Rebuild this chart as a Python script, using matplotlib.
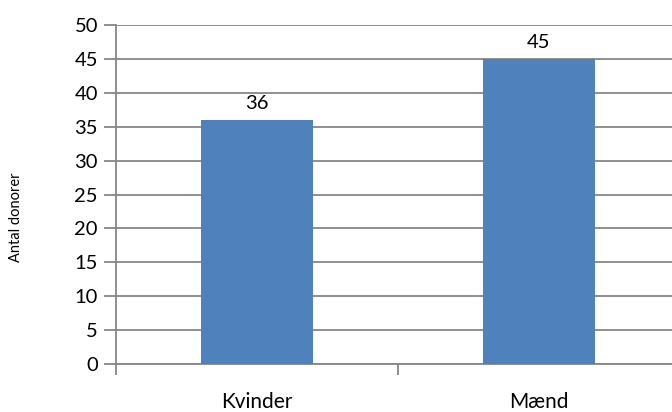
import matplotlib.pyplot as plt

categories = ['Kvinder', 'Mænd']
donors = [36, 45]

plt.rcParams['font.family'] = ['Lato', 'DejaVu Sans']

fig = plt.figure(figsize=(6.72, 4.12), dpi=100)
ax = fig.add_axes([116 / 672, 1 - 364 / 412, (680 - 116) / 672, (364 - 25) / 412])

gray = '#868686'
x = range(len(categories))
bars = ax.bar(x, donors, width=0.40, color='#4F81BD', zorder=3)

for b, v in zip(bars, donors):
    ax.text(b.get_x() + b.get_width() / 2, v + 1.1, str(v), ha='center', va='bottom', fontsize=14.5)

ax.set_xlim(-0.5, 1.5)
ax.set_ylim(0, 50)
ax.set_yticks(range(0, 51, 5))
ax.yaxis.grid(True, color=gray, linewidth=1.3, zorder=0)
ax.set_axisbelow(True)

# category ticks sit between bars, labels centered under bars
ax.set_xticks([-0.5, 0.5, 1.5])
ax.set_xticklabels([])
ax.set_xticks(list(x), minor=True)
ax.set_xticklabels(categories, minor=True, fontsize=15)
ax.tick_params(axis='x', which='minor', length=0, pad=20)
ax.tick_params(axis='x', which='major', length=8, color=gray, width=1.3)
ax.tick_params(axis='y', length=9, color=gray, width=1.3, labelsize=14.5, pad=4)

for s in ['top', 'right']:
    ax.spines[s].set_visible(False)
for s in ['left', 'bottom']:
    ax.spines[s].set_color(gray)
    ax.spines[s].set_linewidth(1.3)

fig.text(16 / 672, 1 - 217 / 412, 'Antal donorer', rotation=90, ha='center', va='center', fontsize=10.5)

fig.savefig('out.png', dpi=100)
